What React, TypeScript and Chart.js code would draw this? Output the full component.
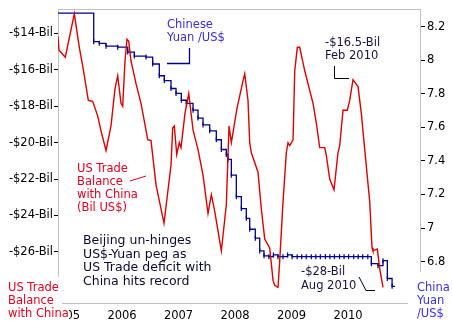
import React, { useEffect, useRef } from 'react';
import { Chart, registerables } from 'chart.js';
Chart.register(...registerables);

// US trade balance with China (Bil US$)
const tradeDates = [2004.867, 2004.885, 2004.996, 2005.156, 2005.244, 2005.304, 2005.404, 2005.481, 2005.57, 2005.628, 2005.717, 2005.805, 2005.876, 2005.924, 2005.982, 2006.012, 2006.053, 2006.088, 2006.119, 2006.159, 2006.248, 2006.336, 2006.395, 2006.455, 2006.513, 2006.543, 2006.602, 2006.743, 2006.867, 2006.897, 2006.926, 2006.968, 2007.014, 2007.044, 2007.115, 2007.181, 2007.257, 2007.345, 2007.434, 2007.522, 2007.581, 2007.641, 2007.758, 2007.846, 2007.894, 2007.935, 2008.035, 2008.142, 2008.172, 2008.23, 2008.26, 2008.288, 2008.407, 2008.465, 2008.526, 2008.614, 2008.673, 2008.703, 2008.761, 2008.791, 2008.85, 2008.908, 2008.938, 2008.968, 2009.027, 2009.057, 2009.103, 2009.145, 2009.234, 2009.292, 2009.381, 2009.439, 2009.499, 2009.588, 2009.616, 2009.676, 2009.752, 2009.823, 2009.853, 2009.912, 2009.988, 2010.03, 2010.088, 2010.177, 2010.235, 2010.296, 2010.384, 2010.425, 2010.442, 2010.519, 2010.561, 2010.619];
const tradeValues = [-14.16, -14.92, -15.3, -12.92, -14.76, -15.78, -17.68, -17.73, -18.54, -19.35, -20.43, -19.08, -17.03, -16.32, -17.84, -18.0, -15.51, -14.32, -14.43, -15.51, -16.76, -17.84, -18.81, -19.84, -19.89, -20.7, -22.32, -24.43, -21.24, -19.19, -19.08, -20.65, -20.0, -20.27, -18.38, -17.3, -19.3, -20.38, -21.78, -23.89, -22.86, -23.78, -25.95, -23.41, -19.08, -20.0, -18.11, -16.59, -16.22, -17.68, -20.0, -20.54, -21.62, -23.62, -25.3, -25.78, -27.57, -27.84, -27.95, -26.49, -23.24, -20.54, -20.0, -20.16, -19.84, -16.05, -14.76, -14.76, -16.05, -16.76, -17.84, -18.92, -20.27, -20.27, -20.7, -22.0, -22.59, -20.54, -20.16, -18.22, -18.22, -17.68, -16.54, -16.92, -18.38, -20.38, -23.24, -25.78, -25.95, -25.84, -26.92, -27.95];

// Chinese Yuan per US$
const yuanDates = [2004.867, 2005.499, 2005.598, 2005.717, 2005.924, 2006.101, 2006.218, 2006.425, 2006.543, 2006.66, 2006.749, 2006.867, 2006.956, 2007.05, 2007.138, 2007.257, 2007.345, 2007.434, 2007.552, 2007.669, 2007.758, 2007.846, 2007.876, 2007.935, 2008.023, 2008.112, 2008.2, 2008.26, 2008.359, 2008.437, 2008.513, 2008.6, 2008.68, 2008.76, 2008.85, 2008.93, 2009.01, 2009.1, 2009.18, 2009.26, 2009.35, 2009.43, 2009.51, 2009.6, 2009.68, 2009.76, 2009.85, 2009.93, 2010.01, 2010.1, 2010.18, 2010.26, 2010.35, 2010.413, 2010.531, 2010.619, 2010.696, 2010.78, 2010.83];
const yuanValues = [8.28, 8.11, 8.1, 8.083, 8.077, 8.048, 8.024, 8.018, 7.977, 7.907, 7.878, 7.831, 7.802, 7.761, 7.743, 7.702, 7.655, 7.614, 7.579, 7.526, 7.468, 7.438, 7.409, 7.315, 7.187, 7.116, 7.058, 6.993, 6.94, 6.864, 6.835, 6.83, 6.84, 6.83, 6.83, 6.84, 6.83, 6.83, 6.83, 6.83, 6.83, 6.83, 6.83, 6.83, 6.83, 6.83, 6.83, 6.83, 6.83, 6.83, 6.83, 6.83, 6.83, 6.788, 6.776, 6.806, 6.7, 6.653, 6.653];

const yearTicks = [2005, 2006, 2007, 2008, 2009, 2010];
const balanceTicks = [-26, -24, -22, -20, -18, -16, -14];
const yuanTicks = [6.8, 7, 7.2, 7.4, 7.6, 7.8, 8, 8.2];

const FONT = '"DejaVu Sans", Verdana, sans-serif';

const annotations = {
  id: 'annotations',
  beforeDatasetsDraw(chart: any) {
    const { ctx, chartArea: a } = chart;
    ctx.save();
    ctx.strokeStyle = '#c0c0c0';
    ctx.lineWidth = 1;
    ctx.strokeRect(Math.round(a.left) + 0.5, Math.round(a.top) + 0.5, Math.round(a.right - a.left), Math.round(a.bottom - a.top));
    ctx.restore();
  },
  afterDraw(chart: any) {
    const ctx = chart.ctx;
    ctx.save();
    ctx.textBaseline = 'middle';
    ctx.textAlign = 'left';
    const text = (lines: string[], x: number, ys: number[], color: string, size: number, box = false) => {
      ctx.font = `${size}px ${FONT}`;
      lines.forEach((t, i) => {
        if (box) {
          const w = ctx.measureText(t).width;
          ctx.fillStyle = '#fff';
          ctx.fillRect(x - 1, ys[i] - 7, w + 1, 14);
        }
        ctx.fillStyle = color;
        ctx.fillText(t, x, ys[i]);
      });
    };
    const line = (pts: number[][], color: string, w = 1) => {
      ctx.strokeStyle = color;
      ctx.lineWidth = w;
      ctx.beginPath();
      pts.forEach((p, i) => (i ? ctx.lineTo(p[0], p[1]) : ctx.moveTo(p[0], p[1])));
      ctx.stroke();
    };
    // white boxes for the corner legends
    ctx.fillStyle = '#fff';
    ctx.fillRect(0, 277, 62, 47);
    ctx.fillRect(408, 272, 45, 52);

    text(['Chinese', 'Yuan /US$'], 167, [25, 38], '#3a2fc8', 11.5);
    line([[189.5, 48], [189.5, 63.5], [167, 63.5]], '#000080', 1.3);

    text(['-$16.5-Bil', 'Feb 2010'], 325, [43, 56], '#1a1040', 11.5);
    line([[334.5, 66], [334.5, 78.5], [349, 78.5]], '#000000', 1);

    text(['US Trade', 'Balance', 'with China', '(Bil US$)'], 77, [169, 182, 195, 208], '#dd0022', 11.5);
    line([[130, 181], [146, 176]], '#dd0022', 1);

    text(['Beijing un-hinges', 'US$-Yuan peg as', 'US Trade deficit with', 'China hits record'], 83, [241, 254.5, 268, 281.5], '#0a0a30', 12.5);

    text(['-$28-Bil', 'Aug 2010'], 301, [272, 286], '#1a1040', 11.5);
    line([[359, 277], [366, 290.5], [375, 290.5]], '#000000', 1);

    text(['US Trade', 'Balance', 'with China'], 8, [288, 301, 314], '#dd0022', 11.5, true);
    text(['China', 'Yuan', '/US$'], 417, [288, 301, 314], '#3a2fe0', 11.5, true);
    ctx.restore();
  },
};

export default function App() {
  const ref = useRef<HTMLCanvasElement>(null);
  useEffect(() => {
    if (!ref.current) return;
    const chart = new Chart(ref.current, {
      type: 'line',
      data: {
        datasets: [
          {
            label: 'US Trade Balance with China',
            data: tradeDates.map((d, i) => ({ x: d, y: tradeValues[i] })),
            borderColor: '#dd0000',
            borderWidth: 1.4,
            pointRadius: 0,
            tension: 0,
            yAxisID: 'yL',
          },
          {
            label: 'Chinese Yuan /US$',
            data: yuanDates.map((d, i) => ({ x: d, y: yuanValues[i] })),
            borderColor: '#00008b',
            borderWidth: 1.3,
            stepped: true,
            pointStyle: 'line',
            pointRotation: 90,
            pointRadius: (c: any) => (c.dataIndex === 0 || c.dataIndex === yuanDates.length - 1 ? 0 : 2.5),
            pointBorderColor: '#00008b',
            pointBorderWidth: 1.2,
            tension: 0,
            yAxisID: 'yR',
          },
        ],
      },
      options: {
        animation: false,
        responsive: false,
        events: [],
        layout: { padding: { top: 4, left: 0, right: 0, bottom: 0 } },
        plugins: { legend: { display: false }, tooltip: { enabled: false } },
        scales: {
          x: {
            type: 'linear',
            min: 2004.867,
            max: 2011.274,
            afterBuildTicks: (s: any) => {
              s.ticks = yearTicks.map((v) => ({ value: v }));
            },
            afterFit: (s: any) => {
              s.height = 21;
            },
            ticks: {
              callback: (v: any) => String(v),
              font: { family: FONT, size: 11.5 },
              color: '#000',
              padding: 6,
              maxRotation: 0,
              autoSkip: false,
            },
            grid: { display: false, drawTicks: false, tickLength: 0 },
            border: { display: false },
          },
          yL: {
            position: 'left',
            min: -28.81,
            max: -12.649,
            afterBuildTicks: (s: any) => {
              s.ticks = balanceTicks.map((v) => ({ value: v }));
            },
            afterFit: (s: any) => {
              s.width = 58;
            },
            ticks: {
              callback: (v: any) => `-$${Math.abs(v)}-Bil`,
              font: { family: FONT, size: 11.5 },
              color: '#000',
              padding: 1,
            },
            grid: { drawOnChartArea: false, tickLength: 4, tickColor: '#000', lineWidth: 1 },
            border: { display: false },
          },
          yR: {
            position: 'right',
            min: 6.554,
            max: 8.305,
            afterBuildTicks: (s: any) => {
              s.ticks = yuanTicks.map((v) => ({ value: v }));
            },
            afterFit: (s: any) => {
              s.width = 33;
            },
            ticks: {
              callback: (v: any) => String(v),
              font: { family: FONT, size: 11.5 },
              color: '#000',
              padding: 2,
            },
            grid: { drawOnChartArea: false, tickLength: 5, tickColor: '#000', lineWidth: 1 },
            border: { display: false },
          },
        },
      },
      plugins: [annotations],
    } as any);
    return () => chart.destroy();
  }, []);
  return (
    <div style={{ position: 'absolute', left: 0, top: 0, width: 453, height: 324, background: '#fff' }}>
      <canvas ref={ref} width={453} height={324} style={{ width: 453, height: 324, display: 'block' }} />
    </div>
  );
}
